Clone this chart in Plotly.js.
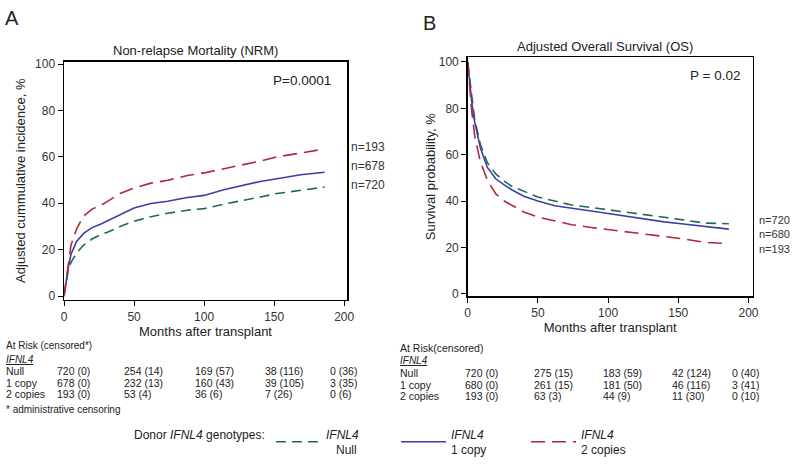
<!DOCTYPE html>
<html>
<head>
<meta charset="utf-8">
<script src="https://cdn.plot.ly/plotly-3.0.1.min.js"></script>
<style>html,body{margin:0;padding:0;background:#fff;}#chart{width:800px;height:465px;}</style>
</head>
<body>
<div id="chart"></div>
<script>
// ---- Data ----
const months = [0, 2, 3, 5, 9, 14, 20, 26, 31, 40, 50, 62, 74, 88, 100, 114, 126, 140, 152, 169, 186];

// Panel A: Non-relapse mortality, adjusted cumulative incidence (%)
const nrmNull   = [0, 8, 11, 14.5, 18.5, 22, 24.6, 26.4, 27.5, 30, 32.3, 34.2, 35.7, 37, 37.7, 39.6, 40.9, 42.7, 44.2, 45.6, 47];
const nrmOne    = [0, 9, 12, 18, 23.5, 27, 29.5, 31, 32.4, 35.2, 38, 39.9, 40.9, 42.5, 43.4, 45.8, 47.4, 49.4, 50.6, 52.3, 53.4];
const nrmTwo    = [0, 9, 13.5, 22, 29, 34.5, 37.5, 39, 40.8, 44.2, 46.6, 48.7, 49.9, 52, 53.1, 54.8, 56.3, 58.2, 60, 61.8, 63.4];

// Panel B: Adjusted overall survival (%)
const osNull    = [100, 90, 84, 75, 64.5, 56.5, 51.7, 48.6, 46.5, 44.1, 41.7, 40, 38.3, 37.2, 36.3, 35.2, 34.1, 33, 32, 30.5, 30.2];
const osOne     = [100, 89, 82, 74, 63, 54.5, 49.6, 47, 45, 42.1, 40, 38, 36.8, 35.7, 34.6, 33.3, 32.1, 31, 30.2, 29, 27.9];
const osTwo     = [100, 85, 78, 68, 57, 49, 43.1, 40, 38.2, 35.3, 33.1, 31.6, 29.8, 28.6, 27.7, 26.8, 26, 24.7, 23.8, 22.2, 21.6];

const xTicks = [0, 50, 100, 150, 200];
const yTicks = [0, 20, 40, 60, 80, 100];

const genotypes = ['Null', '1 copy', '2 copies'];
const nLabelsA = ['n=193', 'n=678', 'n=720'];
const nLabelsB = ['n=720', 'n=680', 'n=193'];

const riskA = [
  ['720 (0)', '254 (14)', '169 (57)', '38 (116)', '0 (36)'],
  ['678 (0)', '232 (13)', '160 (43)', '39 (105)', '3 (35)'],
  ['193 (0)', '53 (4)', '36 (6)', '7 (26)', '0 (6)']
];
const riskB = [
  ['720 (0)', '275 (15)', '183 (59)', '42 (124)', '0 (40)'],
  ['680 (0)', '261 (15)', '181 (50)', '46 (116)', '3 (41)'],
  ['193 (0)', '63 (3)', '44 (9)', '11 (30)', '0 (10)']
];

// ---- Styling ----
const W = 800, H = 465;
const FONT = 'Liberation Sans, Arial, Helvetica, sans-serif';
const colors = ['#1e6b52', '#3b3fa6', '#b0283d'];
const dashes = ['10px,6px', 'solid', '14px,7px'];
const legendIds = ['legend', 'legend2', 'legend3'];
const px = v => v / W;
const py = v => 1 - v / H;

const legendNames = genotypes.map(g => '<i>IFNL4</i><br>' + (g === 'Null' ? '\u00a0\u00a0\u00a0' : '') + g);

function trace(y, i, ax, showLegend) {
  return {
    x: months, y: y, type: 'scatter', mode: 'lines',
    xaxis: ax === 1 ? 'x' : 'x2', yaxis: ax === 1 ? 'y' : 'y2',
    name: legendNames[i], showlegend: showLegend, legend: legendIds[i],
    line: { color: colors[i], width: 1.6, dash: dashes[i] },
    hoverinfo: 'skip'
  };
}
const data = [
  trace(nrmNull, 0, 1, true), trace(nrmOne, 1, 1, true), trace(nrmTwo, 2, 1, true),
  trace(osNull, 0, 2, false), trace(osOne, 1, 2, false), trace(osTwo, 2, 2, false)
];

const tickFont = { family: FONT, size: 12, color: '#333' };
function xAxis(domain, range, anchor) {
  return {
    domain: domain, range: range, anchor: anchor,
    tickvals: xTicks, ticks: 'outside', ticklen: 5, tickcolor: '#000',
    showline: true, mirror: true, linecolor: '#000', linewidth: 1.5,
    showgrid: false, zeroline: false, tickfont: tickFont,
    title: { text: 'Months after transplant', font: { family: FONT, size: 13, color: '#222' }, standoff: 2 }
  };
}
function yAxis(domain, range, anchor, title, standoff) {
  return {
    domain: domain, range: range, anchor: anchor,
    tickvals: yTicks, ticks: 'outside', ticklen: 5, tickcolor: '#000',
    showline: true, mirror: true, linecolor: '#000', linewidth: 1.5,
    showgrid: false, zeroline: false, tickfont: tickFont,
    title: { text: title, font: { family: FONT, size: 13, color: '#222' }, standoff: standoff }
  };
}

const annotations = [];
function ann(text, x, y, opts) {
  annotations.push(Object.assign({
    text: text, x: px(x), y: py(y), xref: 'paper', yref: 'paper',
    xanchor: 'left', yanchor: 'middle', showarrow: false,
    font: { family: FONT, size: 10.5, color: '#222' }
  }, opts || {}));
}
// panel letters & titles
ann('A', 3, 18, { font: { family: FONT, size: 20, color: '#222' } });
ann('B', 421, 23, { font: { family: FONT, size: 20, color: '#222' } });
ann('Non-relapse Mortality (NRM)', 195.5, 51, { xanchor: 'center', font: { family: FONT, size: 13, color: '#222' } });
ann('Adjusted Overall Survival (OS)', 605, 47, { xanchor: 'center', font: { family: FONT, size: 13, color: '#222' } });
ann('P=0.0001', 271, 81, { font: { family: FONT, size: 13.5, color: '#222' } });
ann('P = 0.02', 688, 76, { font: { family: FONT, size: 13.5, color: '#222' } });
// n labels
[148, 167, 186].forEach((y, i) => ann(nLabelsA[i], 349, y, { font: { family: FONT, size: 12, color: '#333' } }));
ann(nLabelsB.join('<br>'), 757, 236, { align: 'left', font: { family: FONT, size: 11, color: '#333' } });
// at-risk tables
ann('At Risk (censored*)', 4, 348, { font: { family: FONT, size: 10, color: '#222' } });
ann('<i><u>IFNL4</u></i>', 4, 362, { font: { family: FONT, size: 10, color: '#222' } });
ann('* administrative censoring', 4, 412, { font: { family: FONT, size: 10, color: '#222' } });
ann('At Risk(censored)', 398, 350, { font: { family: FONT, size: 10.5, color: '#222' } });
ann('<i><u>IFNL4</u></i>', 398, 363, { font: { family: FONT, size: 10, color: '#222' } });
const rowYA = [373, 385, 397], rowYB = [375, 387, 399];
const colXA = [55, 122, 193, 263, 328], colXB = [463, 532, 601, 670, 730];
genotypes.forEach((g, r) => {
  ann(g, 4, rowYA[r]);
  ann(g, 398, rowYB[r]);
  riskA[r].forEach((v, c) => ann(v, colXA[c], rowYA[r]));
  riskB[r].forEach((v, c) => ann(v, colXB[c], rowYB[r]));
});
// legend heading
ann('Donor <i>IFNL4</i> genotypes:', 132, 438, { font: { family: FONT, size: 12, color: '#222' } });

const legendFont = { family: FONT, size: 12, color: '#222' };
function legendAt(x) {
  return {
    orientation: 'h', x: px(x), xanchor: 'left', y: py(445), yanchor: 'middle',
    font: legendFont, itemwidth: 45, bgcolor: 'rgba(0,0,0,0)'
  };
}

const layout = {
  width: W, height: H,
  margin: { l: 0, r: 0, t: 0, b: 0 },
  paper_bgcolor: '#fff', plot_bgcolor: '#fff',
  font: { family: FONT, color: '#222' },
  xaxis: xAxis([px(64), px(347)], [0, 202], 'y'),
  yaxis: yAxis([py(301.7), py(62)], [-1.6, 101.1], 'x', 'Adjusted cummulative incidence, %', 6),
  xaxis2: xAxis([px(467.7), px(752.7)], [0, 203], 'y2'),
  yaxis2: yAxis([py(298), py(57.7)], [-1, 102], 'x2', 'Survival probability, %', 0),
  showlegend: true,
  legend: legendAt(271),
  legend2: legendAt(396),
  legend3: legendAt(526),
  annotations: annotations
};

Plotly.newPlot('chart', data, layout, { staticPlot: true, displayModeBar: false });
</script>
</body>
</html>
